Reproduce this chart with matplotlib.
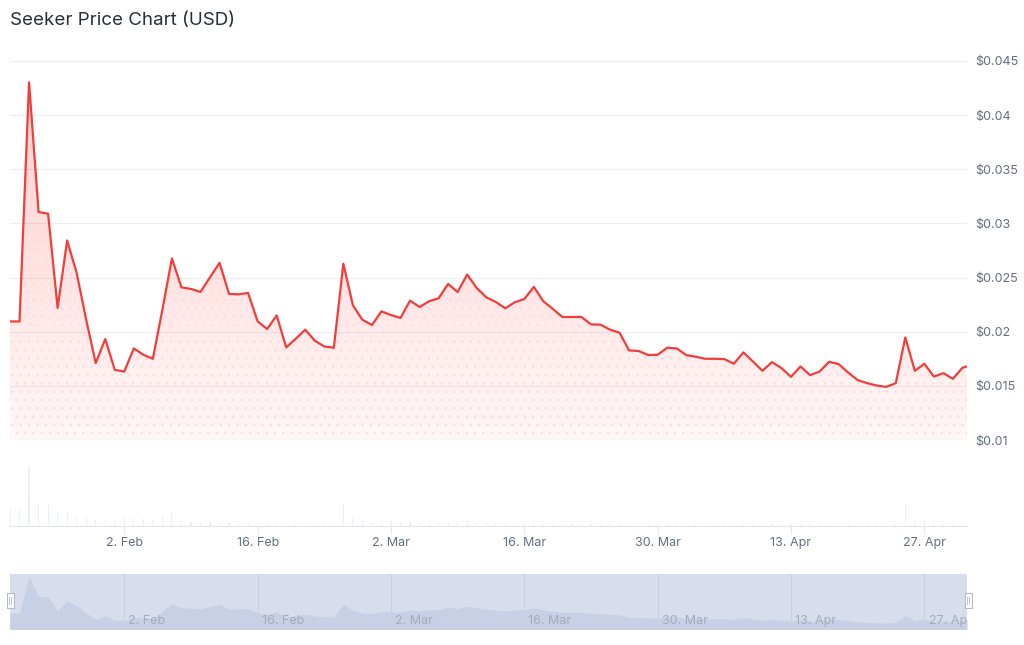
import numpy as np
import pandas as pd
import matplotlib
matplotlib.use('Agg')
import matplotlib.pyplot as plt
import matplotlib.dates as mdates
from matplotlib.patches import Rectangle
from matplotlib.ticker import FixedLocator, FuncFormatter
from matplotlib.transforms import offset_copy

# daily close, 21 Jan 2026 -> 1 May 2026, plus the live point
dates = list(pd.date_range('2026-01-21', '2026-05-01', freq='D')) + [pd.Timestamp('2026-05-01 11:30')]

prices = [
    0.02095, 0.02095, 0.04303, 0.03105, 0.03090, 0.02220, 0.02843, 0.02543, 0.02110, 0.01710, 0.01932,  # Jan 21-31
    0.01648, 0.01632, 0.01846, 0.01787, 0.01750, 0.02204, 0.02676, 0.02410, 0.02395, 0.02367,  # Feb 1-10
    0.02503, 0.02636, 0.02349, 0.02345, 0.02358, 0.02095, 0.02025, 0.02150, 0.01855, 0.01935,  # Feb 11-20
    0.02019, 0.01917, 0.01864, 0.01852, 0.02628, 0.02244, 0.02110, 0.02062,                    # Feb 21-28
    0.02188, 0.02154, 0.02127, 0.02287, 0.02228, 0.02281, 0.02309, 0.02441, 0.02367, 0.02528,  # Mar 1-10
    0.02404, 0.02318, 0.02275, 0.02216, 0.02272, 0.02302, 0.02414, 0.02281, 0.02210, 0.02136,  # Mar 11-20
    0.02136, 0.02136, 0.02068, 0.02065, 0.02019, 0.01991, 0.01827, 0.01822, 0.01785, 0.01787, 0.01852,  # Mar 21-31
    0.01846, 0.01784, 0.01769, 0.01750, 0.01750, 0.01747, 0.01704, 0.01809, 0.01725, 0.01639,  # Apr 1-10
    0.01719, 0.01664, 0.01583, 0.01679, 0.01599, 0.01632, 0.01722, 0.01701, 0.01623, 0.01553,  # Apr 11-20
    0.01525, 0.01503, 0.01491, 0.01525, 0.01947, 0.01639, 0.01704, 0.01586, 0.01617, 0.01565,  # Apr 21-30
    0.01667, 0.01680,                                                                          # May 1
]

# 24h volume (relative, $M)
volumes = [
    18, 18, 60, 21, 21, 13, 13, 10, 10, 6, 6,
    6, 8, 8, 7, 6, 9, 12, 5, 4, 4,
    4, 4, 3, 3, 3, 3, 2, 2, 2, 2,
    2, 2, 2, 2, 22, 8, 6, 4,
    4, 5, 4, 4, 4, 4, 4, 5, 5, 6,
    4, 4, 3, 3, 2, 2, 3, 2, 2, 2,
    2, 2, 2, 2, 2, 2, 2, 2, 2, 2, 2,
    2, 2, 2, 2, 2, 2, 2, 2, 2, 2,
    2, 2, 2, 2, 2, 2, 2, 2, 2, 2,
    2, 2, 2, 2, 22, 6, 6, 3, 2, 2,
    2, 2,
]

tick_dates = pd.date_range('2026-02-02', periods=7, freq='14D')
price_ticks = [0.01, 0.015, 0.02, 0.025, 0.03, 0.035, 0.04, 0.045]

RED = '#f23d3a'
TEXT = '#646d80'

plt.rcParams['font.family'] = ['Inter', 'DejaVu Sans']
plt.rcParams['hatch.linewidth'] = 0.5

x = mdates.date2num(dates)
xt = mdates.date2num(tick_dates)
W, H = 1024, 645

fig = plt.figure(figsize=(W / 100, H / 100), dpi=100)


def frac(left, top, right, bottom):
    return [left / W, 1 - bottom / H, (right - left) / W, (bottom - top) / H]


# ---- price panel
ax = fig.add_axes(frac(10, 61, 967, 440))
ax.set_xlim(x[0], x[-1])
ax.set_ylim(0.01, 0.045)

poly = ax.fill_between(x, prices, 0.01, facecolor='none', edgecolor='none')
grad = np.zeros((256, 1, 4))
grad[..., 0], grad[..., 1], grad[..., 2] = 1.0, 58 / 255, 51 / 255
grad[..., 3] = np.linspace(0.26, 0.04, 256).reshape(-1, 1)
im = ax.imshow(grad, aspect='auto', extent=[x[0], x[-1], 0.01, 0.045], origin='upper', zorder=1)
im.set_clip_path(poly.get_paths()[0], transform=ax.transData)
ax.fill_between(x, prices, 0.01, facecolor='none', edgecolor='#fbdcdc', hatch='..', linewidth=0, zorder=1.5)
ax.plot(x, prices, color=RED, lw=1.6, solid_joinstyle='round', zorder=3)

ax.yaxis.tick_right()
ax.set_yticks(price_ticks)
ax.yaxis.set_major_formatter(FuncFormatter(lambda v, p: '$' + ('%.3f' % v).rstrip('0')))
ax.tick_params(axis='y', length=0, pad=6, labelsize=9, labelcolor=TEXT)
ax.set_xticks([])
ax.grid(axis='y', color='#eceef2', lw=0.8)
ax.set_axisbelow(True)
for s in ax.spines.values():
    s.set_visible(False)

# ---- volume panel
axv = fig.add_axes(frac(10, 445, 967, 526))
axv.bar(x[:-1], volumes[:-1], width=0.12, color='#eceff4')
axv.set_xlim(x[0], x[-1])
axv.set_ylim(0, max(volumes) * 81 / 60)
axv.set_yticks([])
axv.xaxis.set_major_locator(FixedLocator(xt))
axv.xaxis.set_major_formatter(mdates.DateFormatter('%-d. %b'))
axv.tick_params(axis='x', length=6, color='#e4e7ee', pad=2, labelsize=9, labelcolor=TEXT)
for s in ['top', 'left', 'right']:
    axv.spines[s].set_visible(False)
axv.spines['bottom'].set_color('#e4e7ee')

# ---- navigator
axn = fig.add_axes(frac(10, 574, 967, 629))
axn.set_facecolor('#d7ddec')
axn.fill_between(x, prices, 0, color='#c7d0e5', lw=0)
axn.set_xlim(x[0], x[-1])
axn.set_ylim(0.0112, 0.0448)
lbl_tr = offset_copy(axn.get_xaxis_transform(), fig=fig, x=3, units='points')
for t, d in zip(xt, tick_dates):
    axn.axvline(t, color='#c9d0e2', lw=0.8)
    axn.text(t, 0.15, d.strftime('%-d. %b'), transform=lbl_tr,
             fontsize=9, color='#a3abbd', va='center', ha='left', clip_on=True)
axn.set_xticks([])
axn.set_yticks([])
for s in axn.spines.values():
    s.set_visible(False)

# navigator handles
for hx in (10.3, 968):
    fig.add_artist(Rectangle(((hx - 3.5) / W, 1 - 608 / H), 7 / W, 15 / H, transform=fig.transFigure,
                             facecolor='white', edgecolor='#b5bac6', lw=0.8))
    for dx in (-1, 1):
        fig.add_artist(plt.Line2D([(hx + dx) / W] * 2, [1 - 604 / H, 1 - 597 / H],
                                  transform=fig.transFigure, color='#b5bac6', lw=0.6))

fig.text(10 / W, 1 - 25 / H, 'Seeker Price Chart (USD)', fontsize=13.5, color='#2a2e36', va='baseline')

fig.savefig('out.png', dpi=100)
